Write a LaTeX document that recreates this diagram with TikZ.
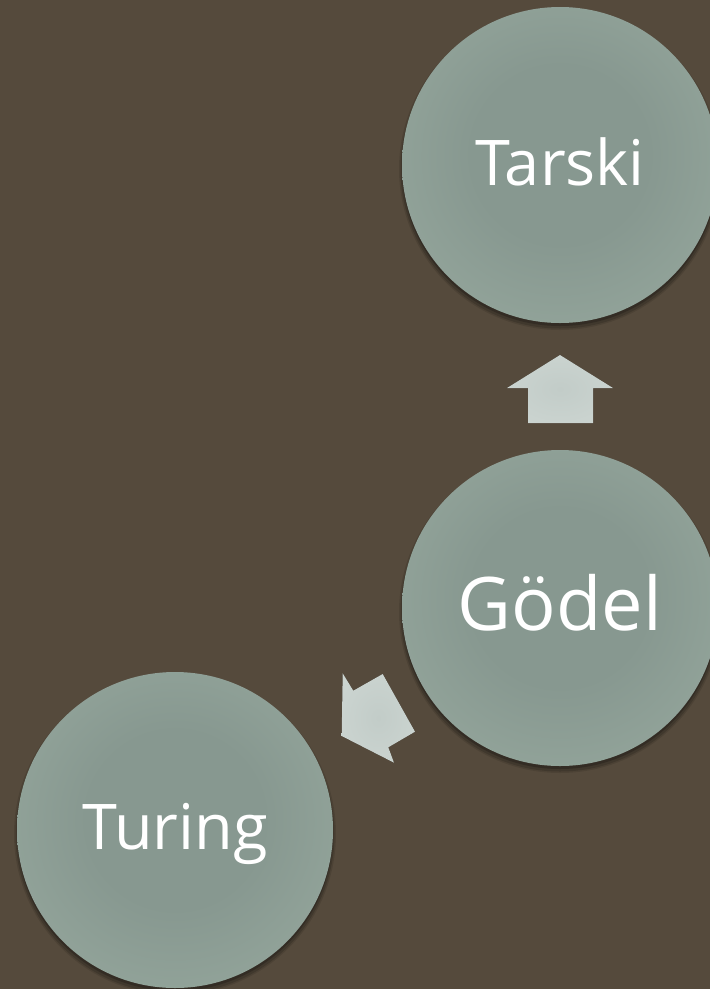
\documentclass[tikz,border=0pt]{standalone}
\usepackage{fontspec}
\setmainfont{Open Sans}
\definecolor{bg}{HTML}{554A3C}
\definecolor{cin}{HTML}{879890}
\definecolor{cout}{HTML}{A0B2A6}
\definecolor{ain}{HTML}{C2CCC8}
\definecolor{aout}{HTML}{D2DAD6}
\pgfdeclareradialshading{circshade}{\pgfpoint{0bp}{2bp}}{color(0bp)=(cin); color(14bp)=(cin); color(46bp)=(cout); color(70bp)=(cout)}
\pgfdeclareradialshading{arrshade}{\pgfpoint{0bp}{0bp}}{color(0bp)=(ain); color(50bp)=(aout)}
\tikzset{
  circ/.style={circle, minimum size=316pt, inner sep=0pt, shading=circshade},
  lbl/.style={text=white, inner sep=0pt, text height=45pt, text depth=0pt, font=\fontsize{63}{63}\selectfont},
  biglbl/.style={text=white, inner sep=0pt, text height=53pt, text depth=0pt, font=\fontsize{74}{74}\selectfont},
  blockarrow/.style={shading=arrshade},
  shadowfill/.style={fill=black, opacity=#1}
}
\begin{document}
\begin{tikzpicture}[x=1pt,y=-1pt]
\useasboundingbox (0,0) rectangle (710,989);
\clip (0,0) rectangle (710,989);
\fill[bg] (0,0) rectangle (710,989);
% shadows
\foreach \cx/\cy in {560/165,560/608,175/830}{
  \fill[shadowfill=0.10] (\cx,\cy+4) circle (161pt);
  \fill[shadowfill=0.15] (\cx,\cy+4) circle (159.5pt);
  \fill[shadowfill=0.20] (\cx,\cy+3) circle (158pt);
}
\node[circ] (tarski) at (560,165) {};
\node[circ] (godel) at (560,608) {};
\node[circ] (turing) at (175,830) {};
\node[lbl] (tarskilbl) at (560,162.5) {Tarski};
\node[biglbl] (godellbl) at (560,603.5) {Gödel};
\node[lbl] (turinglbl) at (175,827) {Turing};
% up arrow
\coordinate (u1) at (560,355);
\coordinate (u2) at (613,388);
\coordinate (u3) at (593,388);
\coordinate (u4) at (593,423);
\coordinate (u5) at (528,423);
\coordinate (u6) at (528,388);
\coordinate (u7) at (507,388);
\fill[shadowfill=0.25,yshift=-3pt] (u1)--(u2)--(u3)--(u4)--(u5)--(u6)--(u7)--cycle;
\fill[shadowfill=0.12,yshift=-5pt] (u1)--(u2)--(u3)--(u4)--(u5)--(u6)--(u7)--cycle;
\shade[blockarrow] (u1)--(u2)--(u3)--(u4)--(u5)--(u6)--(u7)--cycle;
% diagonal arrow
\coordinate (d1) at (341.7,736);
\coordinate (d2) at (342.7,673.3);
\coordinate (d3) at (353.3,690.7);
\coordinate (d4) at (382.7,674);
\coordinate (d5) at (415,731.7);
\coordinate (d6) at (388.3,747.3);
\coordinate (d7) at (394,762.7);
\fill[shadowfill=0.25,yshift=-3pt] (d1)--(d2)--(d3)--(d4)--(d5)--(d6)--(d7)--cycle;
\fill[shadowfill=0.12,yshift=-5pt] (d1)--(d2)--(d3)--(d4)--(d5)--(d6)--(d7)--cycle;
\shade[blockarrow] (d1)--(d2)--(d3)--(d4)--(d5)--(d6)--(d7)--cycle;
\end{tikzpicture}
\end{document}
